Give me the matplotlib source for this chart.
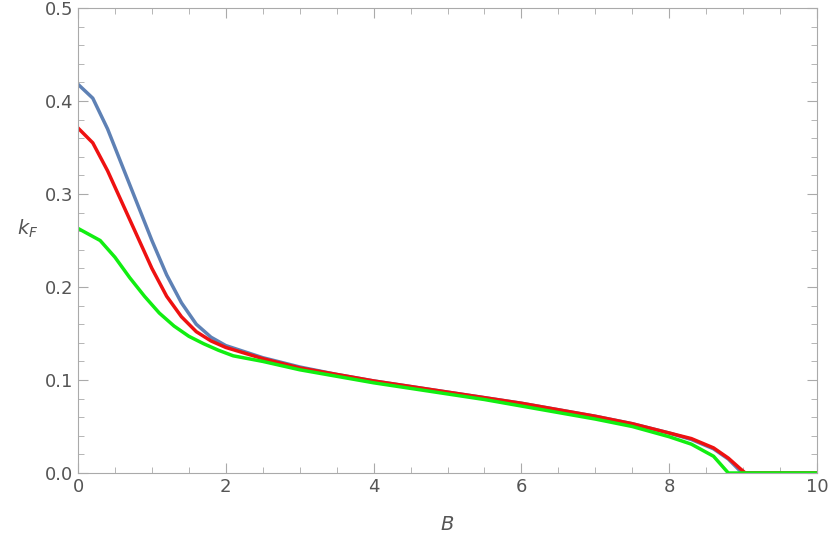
import matplotlib
matplotlib.use("Agg")
import matplotlib.pyplot as plt
from matplotlib.ticker import MultipleLocator

bx = [0,0.2,0.4,0.6,0.8,1.0,1.2,1.4,1.6,1.8,2.0,2.5,3,3.5,4,4.5,5,5.5,6,6.5,7,7.5,8,8.3,8.6,8.8,8.95,9.0,10]
blue = [0.418,0.403,0.37,0.33,0.29,0.25,0.213,0.183,0.16,0.146,0.137,0.124,0.114,0.106,0.099,0.093,0.087,0.081,0.075,0.068,0.061,0.053,0.043,0.036,0.026,0.015,0.003,0,0]
rx = [0,0.2,0.4,0.6,0.8,1.0,1.2,1.4,1.6,1.8,2.0,2.5,3,3.5,4,4.5,5,5.5,6,6.5,7,7.5,8,8.3,8.6,8.8,8.97,9.03,10]
red = [0.371,0.355,0.325,0.29,0.255,0.22,0.19,0.168,0.152,0.142,0.135,0.123,0.113,0.106,0.099,0.093,0.087,0.081,0.075,0.068,0.061,0.053,0.043,0.037,0.027,0.016,0.004,0,0]
gx = [0,0.3,0.5,0.7,0.9,1.1,1.3,1.5,1.7,1.9,2.1,2.5,3,3.5,4,4.5,5,5.5,6,6.5,7,7.5,8,8.3,8.6,8.8,10]
green = [0.263,0.25,0.232,0.21,0.19,0.172,0.158,0.147,0.139,0.132,0.126,0.12,0.111,0.104,0.097,0.091,0.085,0.079,0.072,0.065,0.058,0.05,0.039,0.031,0.018,0,0]

fig = plt.figure(figsize=(8.3,5.54), dpi=100)
ax = fig.add_axes([78/830, 1-473/554, 739/830, 465/554])
ax.plot(bx, blue, color="#5e81b5", lw=2.5)
ax.plot(rx, red, color="#ee1111", lw=2.5)
ax.plot(gx, green, color="#11ee11", lw=2.5)
ax.set_xlim(0,10); ax.set_ylim(0,0.5)
ax.xaxis.set_major_locator(MultipleLocator(2)); ax.xaxis.set_minor_locator(MultipleLocator(0.5))
ax.yaxis.set_major_locator(MultipleLocator(0.1)); ax.yaxis.set_minor_locator(MultipleLocator(0.02))
gray = "#888888"
for s in ax.spines.values(): s.set_color("#aaaaaa")
ax.tick_params(which="both", direction="in", top=True, right=True, colors="#aaaaaa", labelcolor="#555555", labelsize=13)
ax.tick_params(which="major", length=7); ax.tick_params(which="minor", length=4)
ax.set_xticklabels([]); ax.set_yticklabels([])
ax.set_xticks([0,2,4,6,8,10]); ax.set_xticklabels(["0","2","4","6","8","10"])
ax.set_yticks([0,0.1,0.2,0.3,0.4,0.5]); ax.set_yticklabels(["0.0","0.1","0.2","0.3","0.4","0.5"])
ax.set_xlabel("$B$", color="#555555", fontsize=14, labelpad=14)
ax.set_ylabel("$k_F$", color="#555555", fontsize=14, rotation=0, labelpad=12)
fig.savefig("out.png", dpi=100)
